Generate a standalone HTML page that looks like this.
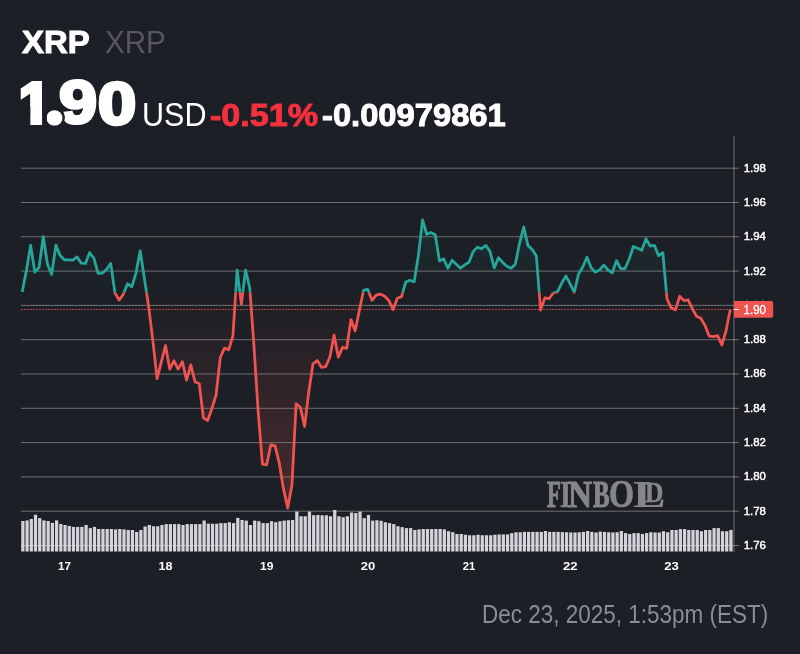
<!DOCTYPE html>
<html lang="en">
<head>
<meta charset="utf-8">
<title>XRP price chart</title>
<style>
html,body{margin:0;padding:0;background:#1c1f25;}
body{width:800px;height:654px;position:relative;overflow:hidden;font-family:"Liberation Sans",sans-serif;}
.t{position:absolute;white-space:nowrap;line-height:1;transform-origin:0 0;}
#wF{left:546.93px;top:474.60px;font-size:38px;color:#85868a;transform:scale(0.5968,1.0050);font-weight:700;-webkit-text-stroke:1.1px #85868a;font-family:"Liberation Serif",serif;}
#wI{left:536.50px;top:474.60px;font-size:38px;color:#85868a;transform:scale(0.7414,1.0050);font-weight:700;-webkit-text-stroke:0.7px #85868a;font-family:"Liberation Serif",serif;}
#wN{left:529.70px;top:474.10px;font-size:38px;color:#85868a;transform:scale(0.8726,1.0229);font-weight:700;-webkit-text-stroke:1.1px #85868a;font-family:"Liberation Serif",serif;}
#wB{left:527.59px;top:474.60px;font-size:38px;color:#85868a;transform:scale(0.6568,0.9988);font-weight:700;-webkit-text-stroke:1.1px #85868a;font-family:"Liberation Serif",serif;}
#wO{left:518.13px;top:474.13px;font-size:38px;color:#85868a;transform:scale(0.8468,1.0268);font-weight:700;-webkit-text-stroke:0.7px #85868a;font-family:"Liberation Serif",serif;}
#wL{left:513.00px;top:473.60px;font-size:38px;color:#85868a;transform:scale(1.2850,1.0192);font-weight:700;font-family:"Liberation Serif",serif;}
#wD{left:498.80px;top:476.80px;font-size:38px;color:#85868a;transform:scale(0.6706,0.7886);font-weight:700;-webkit-text-stroke:0.7px #85868a;font-family:"Liberation Serif",serif;}
#name{left:21.84px;top:26.02px;font-size:31.5px;color:#ffffff;transform:scale(1.0438,1.0232);font-weight:700;-webkit-text-stroke:1.0px #ffffff;}
#sym{left:105.13px;top:26.00px;font-size:32px;color:#56575e;transform:scale(0.9250,0.9850);font-weight:400;}
#p1{left:19.31px;top:74.81px;font-size:61px;color:#ffffff;transform:scale(0.9300,0.9409);font-weight:700;-webkit-text-stroke:4.5px #ffffff;clip-path:polygon(0px 0px,24.9px 0px,24.9px 61px,12.2px 61px,12.2px 34px,0px 34px);}
#pd{left:11.42px;top:64.66px;font-size:61px;color:#ffffff;transform:scale(1.1820,1.1420);font-weight:700;-webkit-text-stroke:5px #ffffff;clip-path:circle(6.8px at 8px 46.5px);}
#p9{left:8.38px;top:72.17px;font-size:61px;color:#ffffff;transform:scale(1.1225,0.9933);font-weight:700;-webkit-text-stroke:3.2px #ffffff;}
#p0{left:12.78px;top:74.67px;font-size:61px;color:#ffffff;transform:scale(1.1250,0.9700);font-weight:700;-webkit-text-stroke:3.5px #ffffff;}
#cur{left:141.90px;top:97.50px;font-size:33.5px;color:#ffffff;transform:scale(0.9112,1.0000);font-weight:400;}
#pct{left:210.12px;top:98.53px;font-size:32px;color:#f2303e;transform:scale(1.0667,0.9900);font-weight:700;-webkit-text-stroke:1.0px #f2303e;}
#chg{left:322.23px;top:99.10px;font-size:32px;color:#ffffff;transform:scale(1.0222,0.9950);font-weight:700;-webkit-text-stroke:1.0px #ffffff;}
#stamp{left:482.00px;top:601.00px;font-size:24px;color:#8b8d94;transform:scale(0.9366,1.0914);font-weight:400;}

.g{position:absolute;left:0;top:0;white-space:nowrap;line-height:1;font-size:0;}
.g span{display:inline-block;position:relative;line-height:1;transform-origin:0 0;}
#ring{position:absolute;left:44.1px;top:107.35px;width:21px;height:21px;border-radius:50%;background:#1c1f25;z-index:2;}
#pd{z-index:3;}
svg{position:absolute;left:0;top:0;}
</style>
</head>
<body>
<svg width="800" height="654" viewBox="0 0 800 654">
<defs>
<linearGradient id="gt" gradientUnits="userSpaceOnUse" x1="0" y1="136" x2="0" y2="292.5">
<stop offset="0" stop-color="#26a69a" stop-opacity="0.27"/><stop offset="1" stop-color="#26a69a" stop-opacity="0"/>
</linearGradient>
<linearGradient id="gb" gradientUnits="userSpaceOnUse" x1="0" y1="292.5" x2="0" y2="551.5">
<stop offset="0" stop-color="#ef5350" stop-opacity="0"/><stop offset="1" stop-color="#ef5350" stop-opacity="0.25"/>
</linearGradient>
<clipPath id="ct"><rect x="0" y="136" width="800" height="156.5"/></clipPath>
<clipPath id="cb"><rect x="0" y="292.5" width="800" height="259.0"/></clipPath>
</defs>
<line x1="733.95" x2="733.95" y1="136" y2="552.5" stroke="#ffffff" stroke-opacity="0.33" stroke-width="1.1"/>
<g stroke="#ffffff" stroke-opacity="0.36" stroke-width="1">
<line x1="21" x2="739.1" y1="168.20" y2="168.20"/><line x1="21" x2="739.1" y1="202.50" y2="202.50"/><line x1="21" x2="739.1" y1="236.80" y2="236.80"/><line x1="21" x2="739.1" y1="271.10" y2="271.10"/><line x1="21" x2="739.1" y1="305.40" y2="305.40"/><line x1="21" x2="739.1" y1="339.70" y2="339.70"/><line x1="21" x2="739.1" y1="374.00" y2="374.00"/><line x1="21" x2="739.1" y1="408.30" y2="408.30"/><line x1="21" x2="739.1" y1="442.60" y2="442.60"/><line x1="21" x2="739.1" y1="476.90" y2="476.90"/><line x1="21" x2="739.1" y1="511.20" y2="511.20"/><line x1="21" x2="739.1" y1="545.50" y2="545.50"/>
</g>
<g fill="#d3d3d9">
<rect x="21.25" y="521.00" width="3.25" height="30.50"/><rect x="25.46" y="520.40" width="3.25" height="31.10"/><rect x="29.68" y="519.00" width="3.25" height="32.50"/><rect x="33.89" y="514.75" width="3.25" height="36.75"/><rect x="38.11" y="518.10" width="3.25" height="33.40"/><rect x="42.32" y="520.40" width="3.25" height="31.10"/><rect x="46.54" y="521.00" width="3.25" height="30.50"/><rect x="50.75" y="522.90" width="3.25" height="28.60"/><rect x="54.97" y="520.40" width="3.25" height="31.10"/><rect x="59.18" y="524.00" width="3.25" height="27.50"/><rect x="63.40" y="525.00" width="3.25" height="26.50"/><rect x="67.61" y="525.90" width="3.25" height="25.60"/><rect x="71.83" y="526.90" width="3.25" height="24.60"/><rect x="76.04" y="526.90" width="3.25" height="24.60"/><rect x="80.25" y="526.90" width="3.25" height="24.60"/><rect x="84.47" y="525.00" width="3.25" height="26.50"/><rect x="88.68" y="528.10" width="3.25" height="23.40"/><rect x="92.90" y="526.90" width="3.25" height="24.60"/><rect x="97.11" y="529.00" width="3.25" height="22.50"/><rect x="101.33" y="529.00" width="3.25" height="22.50"/><rect x="105.54" y="529.00" width="3.25" height="22.50"/><rect x="109.76" y="529.00" width="3.25" height="22.50"/><rect x="113.97" y="529.40" width="3.25" height="22.10"/><rect x="118.19" y="529.00" width="3.25" height="22.50"/><rect x="122.40" y="529.40" width="3.25" height="22.10"/><rect x="126.61" y="530.00" width="3.25" height="21.50"/><rect x="130.83" y="530.00" width="3.25" height="21.50"/><rect x="135.04" y="531.90" width="3.25" height="19.60"/><rect x="139.26" y="530.00" width="3.25" height="21.50"/><rect x="143.47" y="526.50" width="3.25" height="25.00"/><rect x="147.69" y="525.00" width="3.25" height="26.50"/><rect x="151.90" y="526.25" width="3.25" height="25.25"/><rect x="156.12" y="526.25" width="3.25" height="25.25"/><rect x="160.33" y="525.00" width="3.25" height="26.50"/><rect x="164.55" y="524.10" width="3.25" height="27.40"/><rect x="168.76" y="524.10" width="3.25" height="27.40"/><rect x="172.98" y="524.10" width="3.25" height="27.40"/><rect x="177.19" y="524.10" width="3.25" height="27.40"/><rect x="181.40" y="525.00" width="3.25" height="26.50"/><rect x="185.62" y="524.10" width="3.25" height="27.40"/><rect x="189.83" y="524.10" width="3.25" height="27.40"/><rect x="194.05" y="524.10" width="3.25" height="27.40"/><rect x="198.26" y="524.10" width="3.25" height="27.40"/><rect x="202.48" y="520.50" width="3.25" height="31.00"/><rect x="206.69" y="523.60" width="3.25" height="27.90"/><rect x="210.91" y="523.75" width="3.25" height="27.75"/><rect x="215.12" y="523.75" width="3.25" height="27.75"/><rect x="219.34" y="523.10" width="3.25" height="28.40"/><rect x="223.55" y="523.10" width="3.25" height="28.40"/><rect x="227.77" y="522.25" width="3.25" height="29.25"/><rect x="231.98" y="523.10" width="3.25" height="28.40"/><rect x="236.19" y="517.90" width="3.25" height="33.60"/><rect x="240.41" y="520.00" width="3.25" height="31.50"/><rect x="244.62" y="520.60" width="3.25" height="30.90"/><rect x="248.84" y="525.00" width="3.25" height="26.50"/><rect x="253.05" y="520.60" width="3.25" height="30.90"/><rect x="257.27" y="521.25" width="3.25" height="30.25"/><rect x="261.48" y="523.10" width="3.25" height="28.40"/><rect x="265.70" y="523.10" width="3.25" height="28.40"/><rect x="269.91" y="521.25" width="3.25" height="30.25"/><rect x="274.13" y="522.25" width="3.25" height="29.25"/><rect x="278.34" y="521.25" width="3.25" height="30.25"/><rect x="282.56" y="520.60" width="3.25" height="30.90"/><rect x="286.77" y="520.25" width="3.25" height="31.25"/><rect x="290.98" y="520.00" width="3.25" height="31.50"/><rect x="295.20" y="511.60" width="3.25" height="39.90"/><rect x="299.41" y="516.25" width="3.25" height="35.25"/><rect x="303.63" y="516.25" width="3.25" height="35.25"/><rect x="307.84" y="511.60" width="3.25" height="39.90"/><rect x="312.06" y="515.25" width="3.25" height="36.25"/><rect x="316.27" y="515.00" width="3.25" height="36.50"/><rect x="320.49" y="515.25" width="3.25" height="36.25"/><rect x="324.70" y="515.25" width="3.25" height="36.25"/><rect x="328.92" y="516.25" width="3.25" height="35.25"/><rect x="333.13" y="510.00" width="3.25" height="41.50"/><rect x="337.34" y="516.25" width="3.25" height="35.25"/><rect x="341.56" y="517.25" width="3.25" height="34.25"/><rect x="345.77" y="516.25" width="3.25" height="35.25"/><rect x="349.99" y="512.50" width="3.25" height="39.00"/><rect x="354.20" y="513.10" width="3.25" height="38.40"/><rect x="358.42" y="511.60" width="3.25" height="39.90"/><rect x="362.63" y="518.10" width="3.25" height="33.40"/><rect x="366.85" y="515.00" width="3.25" height="36.50"/><rect x="371.06" y="520.60" width="3.25" height="30.90"/><rect x="375.28" y="520.25" width="3.25" height="31.25"/><rect x="379.49" y="520.80" width="3.25" height="30.70"/><rect x="383.71" y="522.25" width="3.25" height="29.25"/><rect x="387.92" y="523.10" width="3.25" height="28.40"/><rect x="392.13" y="524.10" width="3.25" height="27.40"/><rect x="396.35" y="526.25" width="3.25" height="25.25"/><rect x="400.56" y="527.10" width="3.25" height="24.40"/><rect x="404.78" y="528.10" width="3.25" height="23.40"/><rect x="408.99" y="528.10" width="3.25" height="23.40"/><rect x="413.21" y="530.00" width="3.25" height="21.50"/><rect x="417.42" y="529.40" width="3.25" height="22.10"/><rect x="421.64" y="529.00" width="3.25" height="22.50"/><rect x="425.85" y="529.00" width="3.25" height="22.50"/><rect x="430.07" y="529.00" width="3.25" height="22.50"/><rect x="434.28" y="529.00" width="3.25" height="22.50"/><rect x="438.50" y="529.00" width="3.25" height="22.50"/><rect x="442.71" y="529.40" width="3.25" height="22.10"/><rect x="446.92" y="531.25" width="3.25" height="20.25"/><rect x="451.14" y="532.10" width="3.25" height="19.40"/><rect x="455.35" y="534.00" width="3.25" height="17.50"/><rect x="459.57" y="534.00" width="3.25" height="17.50"/><rect x="463.78" y="534.75" width="3.25" height="16.75"/><rect x="468.00" y="535.25" width="3.25" height="16.25"/><rect x="472.21" y="535.25" width="3.25" height="16.25"/><rect x="476.43" y="534.75" width="3.25" height="16.75"/><rect x="480.64" y="535.25" width="3.25" height="16.25"/><rect x="484.86" y="535.25" width="3.25" height="16.25"/><rect x="489.07" y="535.25" width="3.25" height="16.25"/><rect x="493.29" y="534.75" width="3.25" height="16.75"/><rect x="497.50" y="534.40" width="3.25" height="17.10"/><rect x="501.71" y="534.40" width="3.25" height="17.10"/><rect x="505.93" y="534.40" width="3.25" height="17.10"/><rect x="510.14" y="533.10" width="3.25" height="18.40"/><rect x="514.36" y="532.25" width="3.25" height="19.25"/><rect x="518.57" y="532.25" width="3.25" height="19.25"/><rect x="522.79" y="531.90" width="3.25" height="19.60"/><rect x="527.00" y="531.90" width="3.25" height="19.60"/><rect x="531.22" y="531.90" width="3.25" height="19.60"/><rect x="535.43" y="531.90" width="3.25" height="19.60"/><rect x="539.65" y="531.90" width="3.25" height="19.60"/><rect x="543.86" y="531.00" width="3.25" height="20.50"/><rect x="548.07" y="531.90" width="3.25" height="19.60"/><rect x="552.29" y="531.90" width="3.25" height="19.60"/><rect x="556.50" y="531.90" width="3.25" height="19.60"/><rect x="560.72" y="532.10" width="3.25" height="19.40"/><rect x="564.93" y="532.25" width="3.25" height="19.25"/><rect x="569.15" y="532.40" width="3.25" height="19.10"/><rect x="573.36" y="532.50" width="3.25" height="19.00"/><rect x="577.58" y="532.25" width="3.25" height="19.25"/><rect x="581.79" y="531.90" width="3.25" height="19.60"/><rect x="586.01" y="531.00" width="3.25" height="20.50"/><rect x="590.22" y="531.90" width="3.25" height="19.60"/><rect x="594.44" y="532.50" width="3.25" height="19.00"/><rect x="598.65" y="531.60" width="3.25" height="19.90"/><rect x="602.86" y="531.90" width="3.25" height="19.60"/><rect x="607.08" y="532.25" width="3.25" height="19.25"/><rect x="611.29" y="532.50" width="3.25" height="19.00"/><rect x="615.51" y="532.25" width="3.25" height="19.25"/><rect x="619.72" y="531.00" width="3.25" height="20.50"/><rect x="623.94" y="533.10" width="3.25" height="18.40"/><rect x="628.15" y="534.00" width="3.25" height="17.50"/><rect x="632.37" y="533.10" width="3.25" height="18.40"/><rect x="636.58" y="533.10" width="3.25" height="18.40"/><rect x="640.80" y="534.00" width="3.25" height="17.50"/><rect x="645.01" y="533.10" width="3.25" height="18.40"/><rect x="649.23" y="532.25" width="3.25" height="19.25"/><rect x="653.44" y="532.50" width="3.25" height="19.00"/><rect x="657.65" y="532.50" width="3.25" height="19.00"/><rect x="661.87" y="531.25" width="3.25" height="20.25"/><rect x="666.08" y="532.25" width="3.25" height="19.25"/><rect x="670.30" y="530.00" width="3.25" height="21.50"/><rect x="674.51" y="530.00" width="3.25" height="21.50"/><rect x="678.73" y="529.10" width="3.25" height="22.40"/><rect x="682.94" y="529.10" width="3.25" height="22.40"/><rect x="687.16" y="530.00" width="3.25" height="21.50"/><rect x="691.37" y="530.00" width="3.25" height="21.50"/><rect x="695.59" y="530.00" width="3.25" height="21.50"/><rect x="699.80" y="531.25" width="3.25" height="20.25"/><rect x="704.02" y="530.00" width="3.25" height="21.50"/><rect x="708.23" y="530.00" width="3.25" height="21.50"/><rect x="712.44" y="528.10" width="3.25" height="23.40"/><rect x="716.66" y="528.10" width="3.25" height="23.40"/><rect x="720.87" y="531.25" width="3.25" height="20.25"/><rect x="725.09" y="531.25" width="3.25" height="20.25"/><rect x="729.30" y="530.00" width="3.25" height="21.50"/>
</g>
<line x1="21" x2="733" y1="545.5" y2="545.5" stroke="#fff" stroke-opacity="0.18"/>
<g clip-path="url(#ct)"><path d="M22.20,291.90 L26.41,270.50 L30.63,245.20 L34.84,272.20 L39.06,267.40 L43.27,236.70 L47.49,264.30 L51.70,274.40 L55.92,245.20 L60.13,255.50 L64.35,259.80 L68.56,259.80 L72.78,260.03 L76.99,256.90 L81.20,263.10 L85.42,263.48 L89.63,252.70 L93.85,258.20 L98.06,273.43 L102.28,273.20 L106.49,269.50 L110.71,263.40 L114.92,292.90 L119.14,300.10 L123.35,294.20 L127.56,283.75 L131.78,286.80 L135.99,272.80 L140.21,250.90 L144.42,278.60 L148.64,306.50 L152.85,340.70 L157.07,378.70 L161.28,362.10 L165.50,345.50 L169.71,369.10 L173.93,360.80 L178.14,369.10 L182.35,361.60 L186.57,380.20 L190.78,364.90 L195.00,382.00 L199.21,383.50 L203.43,417.90 L207.64,420.52 L211.86,408.70 L216.07,395.00 L220.29,357.50 L224.50,348.17 L228.72,349.73 L232.93,335.90 L237.14,270.10 L241.36,304.00 L245.57,270.10 L249.79,288.20 L254.00,346.75 L258.22,412.50 L262.43,464.20 L266.65,464.88 L270.86,444.82 L275.08,445.80 L279.29,463.20 L283.51,488.90 L287.72,508.10 L291.93,485.00 L296.15,403.75 L300.36,407.30 L304.58,426.50 L308.79,391.70 L313.01,363.80 L317.22,360.60 L321.44,367.30 L325.65,366.70 L329.87,357.00 L334.08,335.20 L338.29,357.10 L342.51,347.43 L346.72,348.27 L350.94,319.60 L355.15,330.90 L359.37,310.50 L363.58,290.20 L367.80,289.38 L372.01,300.30 L376.23,295.20 L380.44,294.07 L384.66,296.30 L388.87,300.60 L393.08,309.50 L397.30,298.30 L401.51,296.80 L405.73,282.00 L409.94,280.35 L414.16,281.75 L418.37,255.50 L422.59,219.80 L426.80,234.28 L431.02,232.55 L435.23,234.80 L439.45,260.90 L443.66,258.75 L447.87,268.20 L452.09,260.30 L456.30,264.30 L460.52,268.20 L464.73,264.90 L468.95,262.30 L473.16,251.60 L477.38,247.12 L481.59,248.78 L485.81,245.40 L490.02,251.50 L494.24,268.00 L498.45,257.80 L502.66,262.40 L506.88,266.20 L511.09,268.15 L515.31,264.20 L519.52,243.30 L523.74,227.00 L527.95,245.60 L532.17,249.40 L536.38,256.00 L540.60,310.00 L544.81,297.98 L549.02,298.73 L553.24,293.00 L557.45,291.90 L561.67,283.30 L565.88,275.90 L570.10,283.80 L574.31,292.30 L578.53,273.90 L582.74,267.00 L586.96,257.30 L591.17,267.75 L595.39,272.10 L599.60,270.00 L603.81,265.20 L608.03,270.00 L612.24,272.92 L616.46,260.60 L620.67,268.50 L624.89,268.73 L629.10,259.30 L633.32,246.50 L637.53,248.30 L641.75,250.25 L645.96,238.90 L650.18,246.00 L654.39,245.40 L658.60,255.60 L662.82,252.70 L667.03,299.00 L671.25,307.80 L675.46,309.90 L679.68,296.30 L683.89,300.52 L688.11,299.77 L692.32,308.60 L696.54,316.20 L700.75,318.20 L704.97,325.40 L709.18,336.10 L713.39,336.70 L717.61,335.70 L721.82,345.00 L726.04,330.80 L730.25,309.60 L730.25,292.5 L22.20,292.5 Z" fill="url(#gt)"/><path d="M22.20,291.90 L26.41,270.50 L30.63,245.20 L34.84,272.20 L39.06,267.40 L43.27,236.70 L47.49,264.30 L51.70,274.40 L55.92,245.20 L60.13,255.50 L64.35,259.80 L68.56,259.80 L72.78,260.03 L76.99,256.90 L81.20,263.10 L85.42,263.48 L89.63,252.70 L93.85,258.20 L98.06,273.43 L102.28,273.20 L106.49,269.50 L110.71,263.40 L114.92,292.90 L119.14,300.10 L123.35,294.20 L127.56,283.75 L131.78,286.80 L135.99,272.80 L140.21,250.90 L144.42,278.60 L148.64,306.50 L152.85,340.70 L157.07,378.70 L161.28,362.10 L165.50,345.50 L169.71,369.10 L173.93,360.80 L178.14,369.10 L182.35,361.60 L186.57,380.20 L190.78,364.90 L195.00,382.00 L199.21,383.50 L203.43,417.90 L207.64,420.52 L211.86,408.70 L216.07,395.00 L220.29,357.50 L224.50,348.17 L228.72,349.73 L232.93,335.90 L237.14,270.10 L241.36,304.00 L245.57,270.10 L249.79,288.20 L254.00,346.75 L258.22,412.50 L262.43,464.20 L266.65,464.88 L270.86,444.82 L275.08,445.80 L279.29,463.20 L283.51,488.90 L287.72,508.10 L291.93,485.00 L296.15,403.75 L300.36,407.30 L304.58,426.50 L308.79,391.70 L313.01,363.80 L317.22,360.60 L321.44,367.30 L325.65,366.70 L329.87,357.00 L334.08,335.20 L338.29,357.10 L342.51,347.43 L346.72,348.27 L350.94,319.60 L355.15,330.90 L359.37,310.50 L363.58,290.20 L367.80,289.38 L372.01,300.30 L376.23,295.20 L380.44,294.07 L384.66,296.30 L388.87,300.60 L393.08,309.50 L397.30,298.30 L401.51,296.80 L405.73,282.00 L409.94,280.35 L414.16,281.75 L418.37,255.50 L422.59,219.80 L426.80,234.28 L431.02,232.55 L435.23,234.80 L439.45,260.90 L443.66,258.75 L447.87,268.20 L452.09,260.30 L456.30,264.30 L460.52,268.20 L464.73,264.90 L468.95,262.30 L473.16,251.60 L477.38,247.12 L481.59,248.78 L485.81,245.40 L490.02,251.50 L494.24,268.00 L498.45,257.80 L502.66,262.40 L506.88,266.20 L511.09,268.15 L515.31,264.20 L519.52,243.30 L523.74,227.00 L527.95,245.60 L532.17,249.40 L536.38,256.00 L540.60,310.00 L544.81,297.98 L549.02,298.73 L553.24,293.00 L557.45,291.90 L561.67,283.30 L565.88,275.90 L570.10,283.80 L574.31,292.30 L578.53,273.90 L582.74,267.00 L586.96,257.30 L591.17,267.75 L595.39,272.10 L599.60,270.00 L603.81,265.20 L608.03,270.00 L612.24,272.92 L616.46,260.60 L620.67,268.50 L624.89,268.73 L629.10,259.30 L633.32,246.50 L637.53,248.30 L641.75,250.25 L645.96,238.90 L650.18,246.00 L654.39,245.40 L658.60,255.60 L662.82,252.70 L667.03,299.00 L671.25,307.80 L675.46,309.90 L679.68,296.30 L683.89,300.52 L688.11,299.77 L692.32,308.60 L696.54,316.20 L700.75,318.20 L704.97,325.40 L709.18,336.10 L713.39,336.70 L717.61,335.70 L721.82,345.00 L726.04,330.80 L730.25,309.60" fill="none" stroke="#26a69a" stroke-width="2.8" stroke-linejoin="round" stroke-linecap="butt"/></g>
<g clip-path="url(#cb)"><path d="M22.20,291.90 L26.41,270.50 L30.63,245.20 L34.84,272.20 L39.06,267.40 L43.27,236.70 L47.49,264.30 L51.70,274.40 L55.92,245.20 L60.13,255.50 L64.35,259.80 L68.56,259.80 L72.78,260.03 L76.99,256.90 L81.20,263.10 L85.42,263.48 L89.63,252.70 L93.85,258.20 L98.06,273.43 L102.28,273.20 L106.49,269.50 L110.71,263.40 L114.92,292.90 L119.14,300.10 L123.35,294.20 L127.56,283.75 L131.78,286.80 L135.99,272.80 L140.21,250.90 L144.42,278.60 L148.64,306.50 L152.85,340.70 L157.07,378.70 L161.28,362.10 L165.50,345.50 L169.71,369.10 L173.93,360.80 L178.14,369.10 L182.35,361.60 L186.57,380.20 L190.78,364.90 L195.00,382.00 L199.21,383.50 L203.43,417.90 L207.64,420.52 L211.86,408.70 L216.07,395.00 L220.29,357.50 L224.50,348.17 L228.72,349.73 L232.93,335.90 L237.14,270.10 L241.36,304.00 L245.57,270.10 L249.79,288.20 L254.00,346.75 L258.22,412.50 L262.43,464.20 L266.65,464.88 L270.86,444.82 L275.08,445.80 L279.29,463.20 L283.51,488.90 L287.72,508.10 L291.93,485.00 L296.15,403.75 L300.36,407.30 L304.58,426.50 L308.79,391.70 L313.01,363.80 L317.22,360.60 L321.44,367.30 L325.65,366.70 L329.87,357.00 L334.08,335.20 L338.29,357.10 L342.51,347.43 L346.72,348.27 L350.94,319.60 L355.15,330.90 L359.37,310.50 L363.58,290.20 L367.80,289.38 L372.01,300.30 L376.23,295.20 L380.44,294.07 L384.66,296.30 L388.87,300.60 L393.08,309.50 L397.30,298.30 L401.51,296.80 L405.73,282.00 L409.94,280.35 L414.16,281.75 L418.37,255.50 L422.59,219.80 L426.80,234.28 L431.02,232.55 L435.23,234.80 L439.45,260.90 L443.66,258.75 L447.87,268.20 L452.09,260.30 L456.30,264.30 L460.52,268.20 L464.73,264.90 L468.95,262.30 L473.16,251.60 L477.38,247.12 L481.59,248.78 L485.81,245.40 L490.02,251.50 L494.24,268.00 L498.45,257.80 L502.66,262.40 L506.88,266.20 L511.09,268.15 L515.31,264.20 L519.52,243.30 L523.74,227.00 L527.95,245.60 L532.17,249.40 L536.38,256.00 L540.60,310.00 L544.81,297.98 L549.02,298.73 L553.24,293.00 L557.45,291.90 L561.67,283.30 L565.88,275.90 L570.10,283.80 L574.31,292.30 L578.53,273.90 L582.74,267.00 L586.96,257.30 L591.17,267.75 L595.39,272.10 L599.60,270.00 L603.81,265.20 L608.03,270.00 L612.24,272.92 L616.46,260.60 L620.67,268.50 L624.89,268.73 L629.10,259.30 L633.32,246.50 L637.53,248.30 L641.75,250.25 L645.96,238.90 L650.18,246.00 L654.39,245.40 L658.60,255.60 L662.82,252.70 L667.03,299.00 L671.25,307.80 L675.46,309.90 L679.68,296.30 L683.89,300.52 L688.11,299.77 L692.32,308.60 L696.54,316.20 L700.75,318.20 L704.97,325.40 L709.18,336.10 L713.39,336.70 L717.61,335.70 L721.82,345.00 L726.04,330.80 L730.25,309.60 L730.25,292.5 L22.20,292.5 Z" fill="url(#gb)"/><path d="M22.20,291.90 L26.41,270.50 L30.63,245.20 L34.84,272.20 L39.06,267.40 L43.27,236.70 L47.49,264.30 L51.70,274.40 L55.92,245.20 L60.13,255.50 L64.35,259.80 L68.56,259.80 L72.78,260.03 L76.99,256.90 L81.20,263.10 L85.42,263.48 L89.63,252.70 L93.85,258.20 L98.06,273.43 L102.28,273.20 L106.49,269.50 L110.71,263.40 L114.92,292.90 L119.14,300.10 L123.35,294.20 L127.56,283.75 L131.78,286.80 L135.99,272.80 L140.21,250.90 L144.42,278.60 L148.64,306.50 L152.85,340.70 L157.07,378.70 L161.28,362.10 L165.50,345.50 L169.71,369.10 L173.93,360.80 L178.14,369.10 L182.35,361.60 L186.57,380.20 L190.78,364.90 L195.00,382.00 L199.21,383.50 L203.43,417.90 L207.64,420.52 L211.86,408.70 L216.07,395.00 L220.29,357.50 L224.50,348.17 L228.72,349.73 L232.93,335.90 L237.14,270.10 L241.36,304.00 L245.57,270.10 L249.79,288.20 L254.00,346.75 L258.22,412.50 L262.43,464.20 L266.65,464.88 L270.86,444.82 L275.08,445.80 L279.29,463.20 L283.51,488.90 L287.72,508.10 L291.93,485.00 L296.15,403.75 L300.36,407.30 L304.58,426.50 L308.79,391.70 L313.01,363.80 L317.22,360.60 L321.44,367.30 L325.65,366.70 L329.87,357.00 L334.08,335.20 L338.29,357.10 L342.51,347.43 L346.72,348.27 L350.94,319.60 L355.15,330.90 L359.37,310.50 L363.58,290.20 L367.80,289.38 L372.01,300.30 L376.23,295.20 L380.44,294.07 L384.66,296.30 L388.87,300.60 L393.08,309.50 L397.30,298.30 L401.51,296.80 L405.73,282.00 L409.94,280.35 L414.16,281.75 L418.37,255.50 L422.59,219.80 L426.80,234.28 L431.02,232.55 L435.23,234.80 L439.45,260.90 L443.66,258.75 L447.87,268.20 L452.09,260.30 L456.30,264.30 L460.52,268.20 L464.73,264.90 L468.95,262.30 L473.16,251.60 L477.38,247.12 L481.59,248.78 L485.81,245.40 L490.02,251.50 L494.24,268.00 L498.45,257.80 L502.66,262.40 L506.88,266.20 L511.09,268.15 L515.31,264.20 L519.52,243.30 L523.74,227.00 L527.95,245.60 L532.17,249.40 L536.38,256.00 L540.60,310.00 L544.81,297.98 L549.02,298.73 L553.24,293.00 L557.45,291.90 L561.67,283.30 L565.88,275.90 L570.10,283.80 L574.31,292.30 L578.53,273.90 L582.74,267.00 L586.96,257.30 L591.17,267.75 L595.39,272.10 L599.60,270.00 L603.81,265.20 L608.03,270.00 L612.24,272.92 L616.46,260.60 L620.67,268.50 L624.89,268.73 L629.10,259.30 L633.32,246.50 L637.53,248.30 L641.75,250.25 L645.96,238.90 L650.18,246.00 L654.39,245.40 L658.60,255.60 L662.82,252.70 L667.03,299.00 L671.25,307.80 L675.46,309.90 L679.68,296.30 L683.89,300.52 L688.11,299.77 L692.32,308.60 L696.54,316.20 L700.75,318.20 L704.97,325.40 L709.18,336.10 L713.39,336.70 L717.61,335.70 L721.82,345.00 L726.04,330.80 L730.25,309.60" fill="none" stroke="#ef5350" stroke-width="2.8" stroke-linejoin="round" stroke-linecap="butt"/></g>
<line x1="21" x2="734" y1="309.55" y2="309.55" stroke="#ef5350" stroke-width="1" stroke-dasharray="2 1" stroke-opacity="0.72"/>
<g font-family="Liberation Sans, sans-serif" font-size="11.4" fill="#ffffff" stroke="#ffffff" stroke-width="0.45">
<text x="743.7" y="171.65" textLength="22.2" lengthAdjust="spacingAndGlyphs">1.98</text><text x="743.7" y="205.95" textLength="22.2" lengthAdjust="spacingAndGlyphs">1.96</text><text x="743.7" y="240.25" textLength="22.2" lengthAdjust="spacingAndGlyphs">1.94</text><text x="743.7" y="274.55" textLength="22.2" lengthAdjust="spacingAndGlyphs">1.92</text><text x="743.7" y="308.85" textLength="22.2" lengthAdjust="spacingAndGlyphs">1.90</text><text x="743.7" y="343.15" textLength="22.2" lengthAdjust="spacingAndGlyphs">1.88</text><text x="743.7" y="377.45" textLength="22.2" lengthAdjust="spacingAndGlyphs">1.86</text><text x="743.7" y="411.75" textLength="22.2" lengthAdjust="spacingAndGlyphs">1.84</text><text x="743.7" y="446.05" textLength="22.2" lengthAdjust="spacingAndGlyphs">1.82</text><text x="743.7" y="480.35" textLength="22.2" lengthAdjust="spacingAndGlyphs">1.80</text><text x="743.7" y="514.65" textLength="22.2" lengthAdjust="spacingAndGlyphs">1.78</text><text x="743.7" y="548.95" textLength="22.2" lengthAdjust="spacingAndGlyphs">1.76</text>
</g>
<path d="M734,301.0 H771.2 Q773.2,301.0 773.2,303.0 V315.8 Q773.2,317.8 771.2,317.8 H734 Z" fill="#ef5350"/>
<line x1="734" x2="738.9" y1="309.5" y2="309.5" stroke="#fff" stroke-width="1"/>
<text x="743.6" y="313.75" font-family="Liberation Sans, sans-serif" font-size="12.3" fill="#fff" stroke="#fff" stroke-width="0.3" textLength="22.4" lengthAdjust="spacingAndGlyphs">1.90</text>
<g font-family="Liberation Sans, sans-serif" font-size="11.3" font-weight="700" fill="#ffffff" text-anchor="middle">
<text x="64.4" y="570.0" textLength="13.0" lengthAdjust="spacingAndGlyphs">17</text><text x="165.6" y="570.0" textLength="14.0" lengthAdjust="spacingAndGlyphs">18</text><text x="266.7" y="570.0" textLength="13.4" lengthAdjust="spacingAndGlyphs">19</text><text x="367.9" y="570.0" textLength="14.5" lengthAdjust="spacingAndGlyphs">20</text><text x="468.9" y="570.0" textLength="12.5" lengthAdjust="spacingAndGlyphs">21</text><text x="570.2" y="570.0" textLength="14.6" lengthAdjust="spacingAndGlyphs">22</text><text x="671.5" y="570.0" textLength="14.6" lengthAdjust="spacingAndGlyphs">23</text>
</g>
</svg>
<div id="ring"></div>
<div class="g" id="gw"><span id="wF">F</span><span id="wI">I</span><span id="wN">N</span><span id="wB">B</span><span id="wO">O</span><span id="wL">L</span><span id="wD">D</span></div>
<div class="g" id="gp"><span id="p1">1</span><span id="pd">.</span><span id="p9">9</span><span id="p0">0</span></div>
<div class="t" id="name">XRP</div>
<div class="t" id="sym">XRP</div>
<div class="t" id="cur">USD</div>
<div class="t" id="pct">-0.51%</div>
<div class="t" id="chg">-0.00979861</div>
<div class="t" id="stamp">Dec 23, 2025, 1:53pm (EST)</div>

</body>
</html>
